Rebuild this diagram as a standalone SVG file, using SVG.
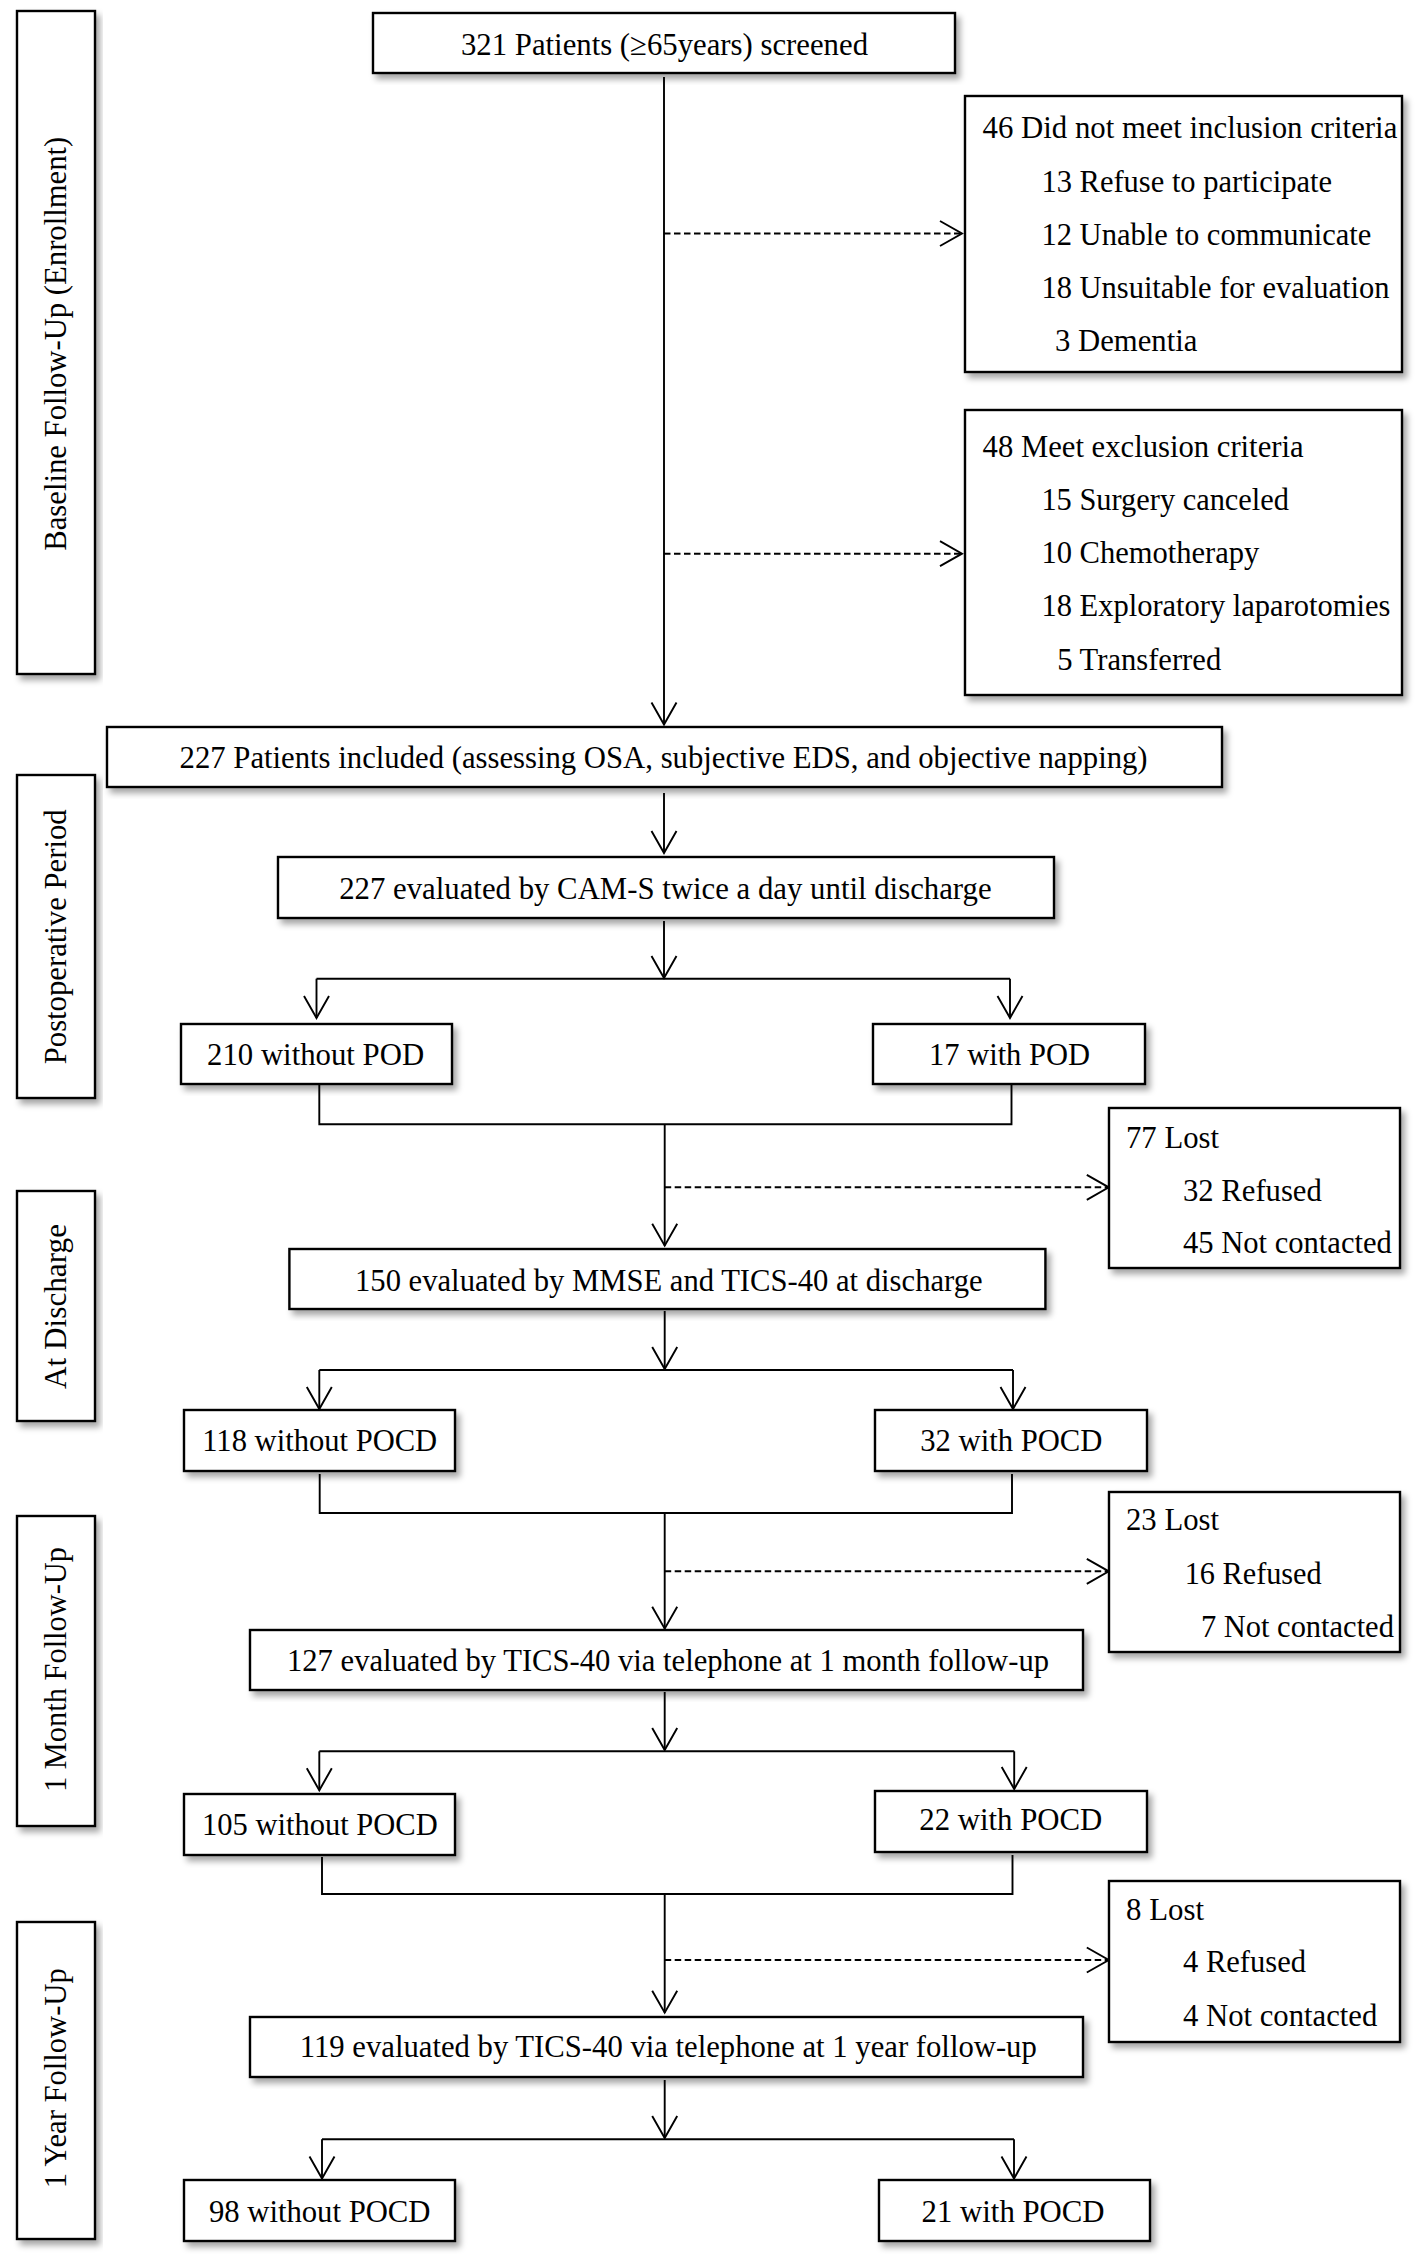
<svg xmlns="http://www.w3.org/2000/svg" width="1418" height="2263" viewBox="0 0 1418 2263">
<defs>
<filter id="sh" x="-5%" y="-10%" width="115%" height="130%">
<feDropShadow dx="4" dy="5" stdDeviation="3" flood-color="#000" flood-opacity="0.35"/>
</filter>
<marker id="ah" viewBox="-25 -15 28 30" markerWidth="28" markerHeight="30" refX="0" refY="0" orient="auto" markerUnits="userSpaceOnUse">
<path d="M-22,-12.5 L0,0 L-22,12.5" fill="none" stroke="#000" stroke-width="1.9" stroke-dasharray="none"/>
</marker>
<style>
.box{fill:#fff;stroke:#000;stroke-width:2.4;filter:url(#sh)}
.t{font-family:"Liberation Serif","Times New Roman",serif;font-size:32px;fill:#000}
.s{font-family:"Liberation Serif","Times New Roman",serif;font-size:31px;fill:#000}
.m{text-anchor:middle}
.c{fill:none;stroke:#000;stroke-width:1.9}
.a{marker-end:url(#ah)}
.d{stroke-dasharray:6.5 3.5}
</style>
</defs>
<rect width="1418" height="2263" fill="#fff"/>

<g id="labels">
<g id="lab-baseline"><rect class="box" x="17" y="11" width="78" height="663"/><text class="s m" transform="translate(66,343.7) rotate(-90)" textLength="414" lengthAdjust="spacingAndGlyphs">Baseline Follow-Up (Enrollment)</text></g>
<g id="lab-postop"><rect class="box" x="17" y="775" width="78" height="323"/><text class="s m" transform="translate(66,936.8) rotate(-90)" textLength="255" lengthAdjust="spacingAndGlyphs">Postoperative Period</text></g>
<g id="lab-discharge"><rect class="box" x="17" y="1191" width="78" height="230"/><text class="s m" transform="translate(66,1306.5) rotate(-90)" textLength="165" lengthAdjust="spacingAndGlyphs">At Discharge</text></g>
<g id="lab-month"><rect class="box" x="17" y="1516" width="78" height="310"/><text class="s m" transform="translate(66,1669.5) rotate(-90)" textLength="245" lengthAdjust="spacingAndGlyphs">1 Month Follow-Up</text></g>
<g id="lab-year"><rect class="box" x="17" y="1922" width="78" height="317"/><text class="s m" transform="translate(66,2078.3) rotate(-90)" textLength="220" lengthAdjust="spacingAndGlyphs">1 Year Follow-Up</text></g>
</g>

<g id="connectors">
<path class="c a" d="M664,77 V724.5"/>
<path class="c a d" d="M664,233.5 H962"/>
<path class="c a d" d="M664,553.7 H962"/>
<path class="c a" d="M664,793 V853"/>
<path class="c a" d="M664,921 V978"/>
<path class="c" d="M316.5,978.7 H1010"/>
<path class="c a" d="M316.5,978.7 V1018"/>
<path class="c a" d="M1010,978.7 V1018"/>
<path class="c" d="M319.3,1085 V1124.3 H1011.5 V1085"/>
<path class="c a" d="M664.7,1124.3 V1245.7"/>
<path class="c a d" d="M664.7,1187.3 H1108.8"/>
<path class="c a" d="M664.7,1311 V1369"/>
<path class="c" d="M319.3,1370 H1013"/>
<path class="c a" d="M319.3,1370 V1409"/>
<path class="c a" d="M1013,1370 V1409"/>
<path class="c" d="M319.7,1474 V1513 H1012 V1474"/>
<path class="c a" d="M664.7,1513 V1628.7"/>
<path class="c a d" d="M664.7,1571.3 H1108.8"/>
<path class="c a" d="M664.7,1692 V1750"/>
<path class="c" d="M319.3,1751.3 H1014.2"/>
<path class="c a" d="M319.3,1751.3 V1790.3"/>
<path class="c a" d="M1014.2,1751.3 V1789"/>
<path class="c" d="M322,1857 V1894 H1012.5 V1855"/>
<path class="c a" d="M664.7,1894 V2012.7"/>
<path class="c a d" d="M664.7,1960 H1108.8"/>
<path class="c a" d="M664.7,2080 V2138"/>
<path class="c" d="M322,2139.3 H1014"/>
<path class="c a" d="M322,2139.3 V2178.5"/>
<path class="c a" d="M1014,2139.3 V2178.5"/>
</g>

<g id="n-screened"><rect class="box" x="373" y="13" width="582" height="60"/><text class="t m" x="664.5" y="55" textLength="407" lengthAdjust="spacingAndGlyphs">321 Patients (≥65years) screened</text></g>

<g id="n-inclusion"><rect class="box" x="965" y="96" width="437" height="276"/>
<text class="s" x="982.6" y="138" textLength="414.7" lengthAdjust="spacingAndGlyphs">46 Did not meet inclusion criteria</text>
<text class="s" x="1041.4" y="191.5" textLength="290.6" lengthAdjust="spacingAndGlyphs">13 Refuse to participate</text>
<text class="s" x="1041.4" y="245" textLength="330" lengthAdjust="spacingAndGlyphs">12 Unable to communicate</text>
<text class="s" x="1041.4" y="298" textLength="348" lengthAdjust="spacingAndGlyphs">18 Unsuitable for evaluation</text>
<text class="s" x="1055" y="351" textLength="142.4" lengthAdjust="spacingAndGlyphs">3 Dementia</text>
</g>

<g id="n-exclusion"><rect class="box" x="965" y="410" width="437" height="285"/>
<text class="s" x="982.6" y="457.3" textLength="321" lengthAdjust="spacingAndGlyphs">48 Meet exclusion criteria</text>
<text class="s" x="1041.4" y="510.3" textLength="247.6" lengthAdjust="spacingAndGlyphs">15 Surgery canceled</text>
<text class="s" x="1041.4" y="563" textLength="218" lengthAdjust="spacingAndGlyphs">10 Chemotherapy</text>
<text class="s" x="1041.4" y="616.3" textLength="349" lengthAdjust="spacingAndGlyphs">18 Exploratory laparotomies</text>
<text class="s" x="1057.2" y="669.7" textLength="164" lengthAdjust="spacingAndGlyphs">5 Transferred</text>
</g>

<g id="n-included"><rect class="box" x="107" y="727" width="1115" height="60"/><text class="t m" x="663.6" y="768" textLength="968" lengthAdjust="spacingAndGlyphs">227 Patients included (assessing OSA, subjective EDS, and objective napping)</text></g>

<g id="n-cams"><rect class="box" x="278" y="857" width="776" height="61"/><text class="t m" x="665.4" y="899.3" textLength="652.4" lengthAdjust="spacingAndGlyphs">227 evaluated by CAM-S twice a day until discharge</text></g>

<g id="n-nopod"><rect class="box" x="181" y="1024" width="271" height="60"/><text class="t m" x="315.6" y="1065.3" textLength="217" lengthAdjust="spacingAndGlyphs">210 without POD</text></g>
<g id="n-pod"><rect class="box" x="873" y="1024" width="272" height="60"/><text class="t m" x="1009.5" y="1065.3" textLength="161" lengthAdjust="spacingAndGlyphs">17 with POD</text></g>

<g id="n-lost77"><rect class="box" x="1109" y="1108" width="291" height="160"/>
<text class="s" x="1126" y="1148" textLength="93" lengthAdjust="spacingAndGlyphs">77 Lost</text>
<text class="s" x="1183" y="1200.7" textLength="138.8" lengthAdjust="spacingAndGlyphs">32 Refused</text>
<text class="s" x="1183" y="1253" textLength="208.8" lengthAdjust="spacingAndGlyphs">45 Not contacted</text>
</g>

<g id="n-mmse"><rect class="box" x="289.4" y="1249" width="756" height="60"/><text class="t m" x="668.8" y="1290.7" textLength="627.6" lengthAdjust="spacingAndGlyphs">150 evaluated by MMSE and TICS-40 at discharge</text></g>

<g id="n-nopocd1"><rect class="box" x="184" y="1410" width="271" height="61"/><text class="t m" x="319.7" y="1450.7" textLength="235" lengthAdjust="spacingAndGlyphs">118 without POCD</text></g>
<g id="n-pocd1"><rect class="box" x="875" y="1410" width="272" height="61"/><text class="t m" x="1011.3" y="1450.7" textLength="182" lengthAdjust="spacingAndGlyphs">32 with POCD</text></g>

<g id="n-lost23"><rect class="box" x="1109" y="1492" width="291" height="160"/>
<text class="s" x="1126" y="1530.3" textLength="93" lengthAdjust="spacingAndGlyphs">23 Lost</text>
<text class="s" x="1184.7" y="1583.7" textLength="137" lengthAdjust="spacingAndGlyphs">16 Refused</text>
<text class="s" x="1200.9" y="1637" textLength="193" lengthAdjust="spacingAndGlyphs">7 Not contacted</text>
</g>

<g id="n-tics1m"><rect class="box" x="250" y="1630" width="833" height="60"/><text class="t m" x="668" y="1671.3" textLength="762" lengthAdjust="spacingAndGlyphs">127 evaluated by TICS-40 via telephone at 1 month follow-up</text></g>

<g id="n-nopocd2"><rect class="box" x="184" y="1794" width="271" height="61"/><text class="t m" x="319.9" y="1835.3" textLength="235.6" lengthAdjust="spacingAndGlyphs">105 without POCD</text></g>
<g id="n-pocd2"><rect class="box" x="875" y="1791" width="272" height="61"/><text class="t m" x="1010.8" y="1830.3" textLength="183" lengthAdjust="spacingAndGlyphs">22 with POCD</text></g>

<g id="n-lost8"><rect class="box" x="1109" y="1881" width="291" height="161"/>
<text class="s" x="1126" y="1920" textLength="78" lengthAdjust="spacingAndGlyphs">8 Lost</text>
<text class="s" x="1183" y="1972.3" textLength="123" lengthAdjust="spacingAndGlyphs">4 Refused</text>
<text class="s" x="1183" y="2026" textLength="194.3" lengthAdjust="spacingAndGlyphs">4 Not contacted</text>
</g>

<g id="n-tics1y"><rect class="box" x="250" y="2017" width="833" height="60"/><text class="t m" x="668.3" y="2056.7" textLength="737" lengthAdjust="spacingAndGlyphs">119 evaluated by TICS-40 via telephone at 1 year follow-up</text></g>

<g id="n-nopocd3"><rect class="box" x="184" y="2180" width="271" height="61"/><text class="t m" x="319.7" y="2221.7" textLength="221.6" lengthAdjust="spacingAndGlyphs">98 without POCD</text></g>
<g id="n-pocd3"><rect class="box" x="879" y="2180" width="271" height="61"/><text class="t m" x="1013.1" y="2221.7" textLength="183" lengthAdjust="spacingAndGlyphs">21 with POCD</text></g>
</svg>
